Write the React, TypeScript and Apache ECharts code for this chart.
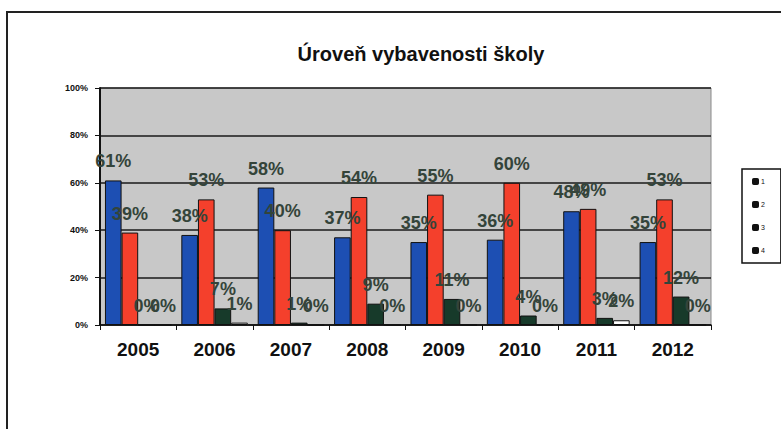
import React, { useEffect, useRef } from "react";
import * as echarts from "echarts";

const categories = ["2005", "2006", "2007", "2008", "2009", "2010", "2011", "2012"];
const series1 = [61, 38, 58, 37, 35, 36, 48, 35];
const series2 = [39, 53, 40, 54, 55, 60, 49, 53];
const series3 = [0, 7, 1, 9, 11, 4, 3, 12];
const series4 = [0, 1, 0, 0, 0, 0, 2, 0];
const seriesNames = ["1", "2", "3", "4"];
const yTicks = [0, 20, 40, 60, 80, 100];

const FONT = 'Arial, "Liberation Sans", sans-serif';

export default function App() {
  const ref = useRef<HTMLDivElement>(null);
  useEffect(() => {
    if (!ref.current) return;
    const chart = echarts.init(ref.current, null, { renderer: "svg" });
    const colors = ["#1d4fb3", "#f4402c", "#173a2a", "#ffffff"];
    const all = [series1, series2, series3, series4];
    const label = {
      show: true,
      position: "top",
      distance: 10,
      formatter: "{c}%",
      color: "#34443a",
      fontSize: 18,
      fontWeight: "bold",
      fontFamily: FONT,
    };
    chart.setOption({
      animation: false,
      backgroundColor: "#ffffff",
      title: {
        text: "Úroveň vybavenosti školy",
        left: 416,
        textAlign: "center",
        top: 39,
        textStyle: { fontSize: 20, fontWeight: "bold", color: "#111", fontFamily: FONT },
      },
      graphic: [
        {
          type: "rect",
          shape: { x: 7, y: 12, width: 800, height: 500 },
          style: { fill: "none", stroke: "#222", lineWidth: 2 },
          silent: true,
        },
      ],
      legend: {
        orient: "vertical",
        left: 742,
        top: 169,
        width: 20,
        padding: [9, 16, 9, 10],
        itemWidth: 7,
        itemHeight: 7,
        itemGap: 16,
        borderColor: "#111",
        borderWidth: 1.5,
        itemStyle: { color: "#111", borderWidth: 0 },
        textStyle: { fontSize: 7, color: "#111", fontFamily: FONT, padding: [0, 0, 0, -3] },
        data: seriesNames,
      },
      grid: {
        left: 100,
        right: 70,
        top: 88,
        bottom: 104,
        show: true,
        backgroundColor: "#c8c8c8",
        borderColor: "#8a8a8a",
        borderWidth: 1,
      },
      xAxis: {
        type: "category",
        data: categories,
        boundaryGap: true,
        axisLine: { lineStyle: { color: "#111", width: 1.5 } },
        axisTick: { show: true, length: 5, lineStyle: { color: "#111" } },
        axisLabel: {
          fontSize: 19,
          fontWeight: "bold",
          color: "#111",
          fontFamily: FONT,
          margin: 15,
        },
      },
      yAxis: {
        type: "value",
        min: yTicks[0],
        max: yTicks[yTicks.length - 1],
        interval: 20,
        axisLine: { show: true, lineStyle: { color: "#111", width: 2 } },
        axisTick: { show: true, length: 5, lineStyle: { color: "#111" } },
        axisLabel: {
          formatter: "{value}%",
          fontSize: 9,
          fontWeight: "bold",
          color: "#111",
          fontFamily: FONT,
          margin: 12,
        },
        splitLine: { show: true, lineStyle: { color: "#1a1a1a", width: 1.5 } },
      },
      series: all.map((d, i) => ({
        name: seriesNames[i],
        type: "bar",
        data: d,
        barGap: "0%",
        barCategoryGap: "13%",
        itemStyle: { color: colors[i], borderColor: "#111", borderWidth: 1 },
        label,
      })),
    });
    return () => chart.dispose();
  }, []);
  return (
    <div
      ref={ref}
      style={{ position: "fixed", left: 0, top: 0, width: 781, height: 429 }}
    />
  );
}
